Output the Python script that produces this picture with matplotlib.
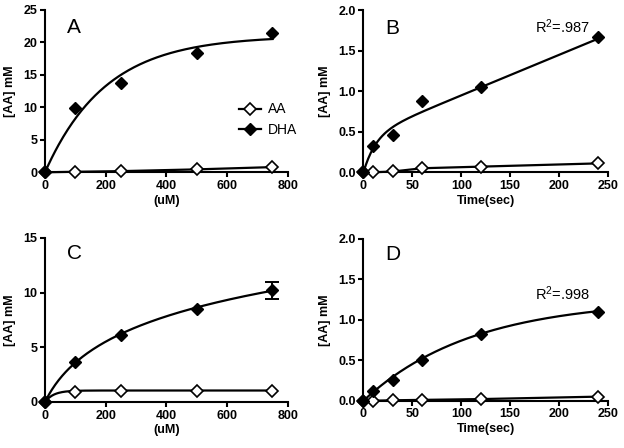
import numpy as np
import matplotlib
matplotlib.use("Agg")
import matplotlib.pyplot as plt

plt.rcParams['font.family'] = ['Liberation Sans', 'DejaVu Sans']
plt.rcParams['mathtext.default'] = 'regular'

# --- data ---
conc = [0, 100, 250, 500, 750]          # uM
time_s = [0, 10, 30, 60, 120, 240]      # sec

a_aa = [0, 0.08, 0.18, 0.45, 0.8]
a_dha = [0, 9.9, 13.8, 18.3, 21.5]

b_aa = [0, 0.0, 0.01, 0.05, 0.07, 0.11]
b_dha = [0, 0.32, 0.46, 0.88, 1.05, 1.67]

c_aa = [0, 0.9, 1.05, 1.05, 1.05]
c_dha = [0, 3.7, 6.1, 8.5, 10.2]
c_dha_err = [0, 0, 0, 0, 0.75]

d_aa = [0, 0.0, 0.005, 0.01, 0.02, 0.05]
d_dha = [0, 0.12, 0.25, 0.50, 0.82, 1.10]

# fitted curve parameters (as drawn in the figure)
a_dha_fit = [21.0, 0.005]            # Ymax, k      one phase association
b_dha_fit = [0.45, 0.08, 0.005]      # A, k, slope  exp + linear
c_dha_fit = [4.245, 75.0]            # p, q         p*ln(1+x/q)
c_aa_fit = [1.05, 0.035]             # Ymax, k
d_dha_fit = [1.25, 0.009]            # Ymax, k

r2_b = "R$^2$=.987"
r2_d = "R$^2$=.998"


def assoc(x, p):
    return p[0] * (1 - np.exp(-p[1] * x))


def assoc_lin(x, p):
    return p[0] * (1 - np.exp(-p[1] * x)) + p[2] * x


def log_curve(x, p):
    return p[0] * np.log1p(x / p[1])


fig = plt.figure(figsize=(6.24, 4.48), dpi=100)

axA = fig.add_axes([0.0721, 0.6154, 0.3889, 0.3627])
axB = fig.add_axes([0.5825, 0.6154, 0.3918, 0.3616])
axC = fig.add_axes([0.0721, 0.1027, 0.3889, 0.3661])
axD = fig.add_axes([0.5825, 0.1056, 0.3918, 0.3616])

open_kw = dict(marker='D', markersize=6.5, markerfacecolor='white',
               markeredgecolor='black', markeredgewidth=1.2, linestyle='none',
               clip_on=False, zorder=4)
fill_kw = dict(marker='D', markersize=6.5, color='black', linestyle='none',
               clip_on=False, zorder=5)
line_kw = dict(color='black', linewidth=1.6, clip_on=False, zorder=3)


def style(ax, xmax, xstep, ymax, ystep, yfmt, xlabel):
    ax.set_xlim(0, xmax)
    ax.set_ylim(0, ymax)
    ax.set_xticks(np.arange(0, xmax + 1e-9, xstep))
    yt = np.arange(0, ymax + 1e-9, ystep)
    ax.set_yticks(yt)
    ax.set_yticklabels([yfmt.format(v) for v in yt])
    for s in ['top', 'right']:
        ax.spines[s].set_visible(False)
    for s in ['left', 'bottom']:
        ax.spines[s].set_linewidth(1.5)
    ax.tick_params(width=1.5, length=3.5, labelsize=9, pad=2)
    for lab in ax.get_xticklabels() + ax.get_yticklabels():
        lab.set_fontweight('bold')
    ax.set_xlabel(xlabel, fontsize=9, fontweight='bold', labelpad=2)
    ax.set_ylabel('[AA] mM', fontsize=9, fontweight='bold', labelpad=5)


# Panel A
xa = np.linspace(0, 750, 200)
axA.plot(xa, assoc(xa, a_dha_fit), **line_kw)
axA.plot(conc, a_aa, **line_kw)
axA.plot(conc, a_aa, **open_kw)
axA.plot(conc, a_dha, **fill_kw)
style(axA, 800, 200, 25, 5, '{:.0f}', '(uM)')
axA.text(0.09, 0.89, 'A', transform=axA.transAxes, fontsize=15, va='center')
hAA, = axA.plot([], [], color='black', linewidth=1.6, marker='D', markersize=6.5,
                markerfacecolor='white', markeredgecolor='black', markeredgewidth=1.2)
hDHA, = axA.plot([], [], color='black', linewidth=1.6, marker='D', markersize=6.5)
axA.legend([hAA, hDHA], ['AA', 'DHA'], loc='upper left', bbox_to_anchor=(0.8, 0.43),
           frameon=False, fontsize=10, handlelength=1.6, handletextpad=0.5,
           borderpad=0, borderaxespad=0, labelspacing=0.45, numpoints=1)

# Panel B
xb = np.linspace(0, 240, 200)
axB.plot(xb, assoc_lin(xb, b_dha_fit), **line_kw)
axB.plot(time_s, b_aa, **line_kw)
axB.plot(time_s, b_aa, **open_kw)
axB.plot(time_s, b_dha, **fill_kw)
style(axB, 250, 50, 2.0, 0.5, '{:.1f}', 'Time(sec)')
axB.text(0.088, 0.885, 'B', transform=axB.transAxes, fontsize=15, va='center')
axB.text(0.70, 0.90, r2_b, transform=axB.transAxes, fontsize=10.5, va='center')

# Panel C
xc = np.linspace(0, 750, 200)
axC.plot(xc, log_curve(xc, c_dha_fit), **line_kw)
axC.plot(xc, assoc(xc, c_aa_fit), **line_kw)
axC.plot(conc, c_aa, **open_kw)
axC.errorbar(conc[-1:], c_dha[-1:], yerr=c_dha_err[-1:], fmt='none', ecolor='black',
             elinewidth=1.4, capsize=5, capthick=1.4, zorder=4)
axC.plot(conc, c_dha, **fill_kw)
style(axC, 800, 200, 15, 5, '{:.0f}', '(uM)')
axC.text(0.09, 0.905, 'C', transform=axC.transAxes, fontsize=15, va='center')

# Panel D
xd = np.linspace(0, 240, 200)
axD.plot(xd, assoc(xd, d_dha_fit), **line_kw)
axD.plot(time_s, d_aa, **line_kw)
axD.plot(time_s, d_aa, **open_kw)
axD.plot(time_s, d_dha, **fill_kw)
style(axD, 250, 50, 2.0, 0.5, '{:.1f}', 'Time(sec)')
axD.text(0.088, 0.905, 'D', transform=axD.transAxes, fontsize=15, va='center')
axD.text(0.70, 0.66, r2_d, transform=axD.transAxes, fontsize=10.5, va='center')

fig.savefig('out.png', dpi=100)
